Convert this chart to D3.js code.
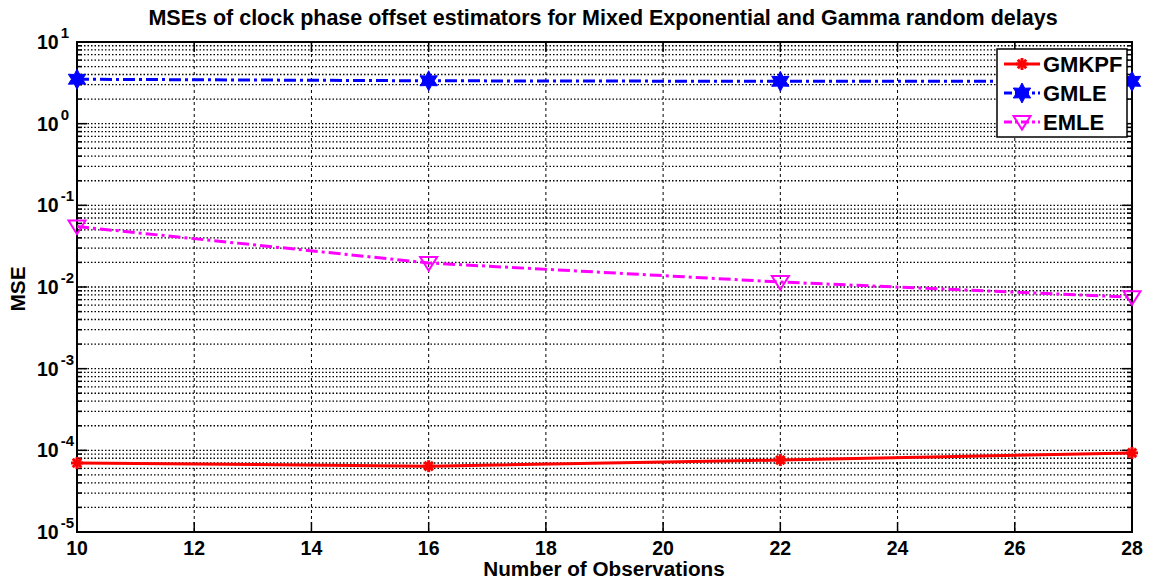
<!DOCTYPE html>
<html><head><meta charset="utf-8">
<script src="https://cdn.jsdelivr.net/npm/d3@7"></script>
<style>body{margin:0;background:#fff;} text{font-family:"Liberation Sans",Arial,sans-serif;font-weight:bold;}</style>
</head><body>
<svg id="c" width="1151" height="584"></svg>
<script>
const observations = [10, 16, 22, 28];
const gmkpf = [7.0e-5, 6.4e-5, 7.6e-5, 9.3e-5];
const gmle = [3.5, 3.35, 3.3, 3.3];
const emle = [0.055, 0.0197, 0.0115, 0.0075];
const xTicks = [10, 12, 14, 16, 18, 20, 22, 24, 26, 28];
const yExps = [1, 0, -1, -2, -3, -4, -5];
const title = "MSEs of clock phase offset estimators for Mixed Exponential and Gamma random delays";

const svg = d3.select("#c");
const m = {l: 77, r: 1132, t: 42, b: 532};
const x = d3.scaleLinear().domain([10, 28]).range([m.l, m.r]);
const y = d3.scaleLog().domain([1e-5, 10]).range([m.b, m.t]);

// grid
const g = svg.append("g");
const minor = [];
for (let e = -5; e < 1; e++) for (let k = 1; k <= 9; k++) minor.push(k * Math.pow(10, e));
minor.push(10);
minor.forEach(v => {
  if (Math.abs(Math.log10(v) - 1) < 1e-9 || Math.abs(Math.log10(v) + 5) < 1e-9) return;
  g.append("line").attr("x1", m.l).attr("x2", m.r).attr("y1", y(v)).attr("y2", y(v))
   .attr("stroke", "#000").attr("stroke-width", 1.3).attr("stroke-dasharray", "1.5,2");
});
xTicks.slice(1, -1).forEach(t => {
  g.append("line").attr("x1", x(t)).attr("x2", x(t)).attr("y1", m.t).attr("y2", m.b)
   .attr("stroke", "#000").attr("stroke-width", 1).attr("stroke-dasharray", "3,3");
});

// axes box & ticks
svg.append("rect").attr("x", m.l).attr("y", m.t).attr("width", m.r - m.l).attr("height", m.b - m.t)
  .attr("fill", "none").attr("stroke", "#000").attr("stroke-width", 2);
xTicks.forEach(t => {
  svg.append("line").attr("x1", x(t)).attr("x2", x(t)).attr("y1", m.b).attr("y2", m.b - 10).attr("stroke", "#000").attr("stroke-width", 1.5);
  svg.append("line").attr("x1", x(t)).attr("x2", x(t)).attr("y1", m.t).attr("y2", m.t + 10).attr("stroke", "#000").attr("stroke-width", 1.5);
  svg.append("text").attr("x", x(t)).attr("y", 555).attr("text-anchor", "middle").attr("font-size", 19.5).text(t);
});
minor.forEach(v => {
  const major = Math.abs(Math.log10(v) - Math.round(Math.log10(v))) < 1e-9;
  const len = major ? 10 : 5;
  svg.append("line").attr("x1", m.l).attr("x2", m.l + len).attr("y1", y(v)).attr("y2", y(v)).attr("stroke", "#000").attr("stroke-width", 1.5);
  svg.append("line").attr("x1", m.r).attr("x2", m.r - len).attr("y1", y(v)).attr("y2", y(v)).attr("stroke", "#000").attr("stroke-width", 1.5);
});
yExps.forEach(e => {
  const t = svg.append("text").attr("x", 37).attr("y", y(Math.pow(10, e)) + 7).attr("text-anchor", "start").attr("font-size", 19.5);
  t.append("tspan").text("10");
  t.append("tspan").attr("dx", 2).attr("dy", -11).attr("font-size", 15).text(e);
});

// lines
const line = d3.line().x((d, i) => x(observations[i])).y(d => y(d));
svg.append("path").datum(gmkpf).attr("d", line).attr("fill", "none").attr("stroke", "#ff0000").attr("stroke-width", 3);
svg.append("path").datum(gmle).attr("d", line).attr("fill", "none").attr("stroke", "#0000ff").attr("stroke-width", 3).attr("stroke-dasharray", "12,4,3,4");
svg.append("path").datum(emle).attr("d", line).attr("fill", "none").attr("stroke", "#ff00ff").attr("stroke-width", 3).attr("stroke-dasharray", "12,4,3,4");

function hexagram(cx, cy, r, sel) {
  const pts = [];
  for (let i = 0; i < 12; i++) {
    const a = -Math.PI / 2 + i * Math.PI / 6;
    const rr = i % 2 === 0 ? r : r * 0.55;
    pts.push([cx + rr * Math.cos(a), cy + rr * Math.sin(a)]);
  }
  sel.append("polygon").attr("points", pts.map(p => p.join(",")).join(" ")).attr("fill", "#0000ff").attr("stroke", "#0000ff").attr("stroke-width", 1);
}
function asterisk(cx, cy, r, sel) {
  for (let i = 0; i < 4; i++) {
    const a = i * Math.PI / 4;
    sel.append("line").attr("x1", cx - r * Math.cos(a)).attr("y1", cy - r * Math.sin(a))
      .attr("x2", cx + r * Math.cos(a)).attr("y2", cy + r * Math.sin(a)).attr("stroke", "#ff0000").attr("stroke-width", 3);
  }
}
function triDown(cx, cy, r, sel) {
  sel.append("polygon").attr("points", `${cx - r},${cy - r * 0.7} ${cx + r},${cy - r * 0.7} ${cx},${cy + r * 0.9}`)
    .attr("fill", "none").attr("stroke", "#ff00ff").attr("stroke-width", 2);
}
const mk = svg.append("g");
observations.forEach((o, i) => {
  asterisk(x(o), y(gmkpf[i]), 6, mk);
  hexagram(x(o), y(gmle[i]), 10, mk);
  triDown(x(o), y(emle[i]), 8.5, mk);
});

// legend
const lg = svg.append("g");
lg.append("rect").attr("x", 997).attr("y", 49).attr("width", 130).attr("height", 88).attr("fill", "#fff").attr("stroke", "#000").attr("stroke-width", 1.5);
const entries = [
  {name: "GMKPF", color: "#ff0000", dash: null, mark: asterisk, r: 6},
  {name: "GMLE", color: "#0000ff", dash: "8,3,3,3", mark: hexagram, r: 10},
  {name: "EMLE", color: "#ff00ff", dash: "8,3,3,3", mark: triDown, r: 8.5}
];
entries.forEach((e, i) => {
  const cy = 64 + i * 29;
  lg.append("line").attr("x1", 1004).attr("x2", 1040).attr("y1", cy).attr("y2", cy).attr("stroke", e.color).attr("stroke-width", 3).attr("stroke-dasharray", e.dash);
  e.mark(1022, cy, e.r, lg);
  lg.append("text").attr("x", 1043).attr("y", cy + 8).attr("font-size", 22).text(e.name);
});

// titles
svg.append("text").attr("x", 603).attr("y", 25).attr("text-anchor", "middle").attr("font-size", 21.5).text(title);
svg.append("text").attr("x", 604).attr("y", 576).attr("text-anchor", "middle").attr("font-size", 20.7).text("Number of Observations");
svg.append("text").attr("transform", "translate(25,289) rotate(-90)").attr("text-anchor", "middle").attr("font-size", 20.8).text("MSE");
</script>
</body></html>
